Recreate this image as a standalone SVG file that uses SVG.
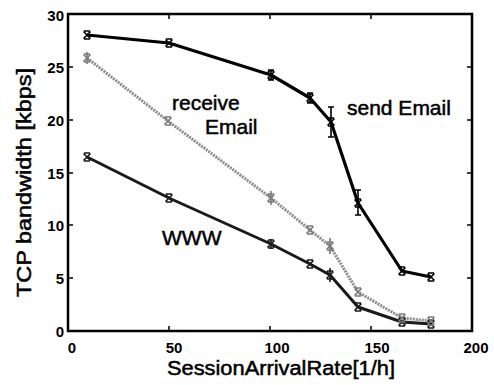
<svg xmlns="http://www.w3.org/2000/svg" width="494" height="385" viewBox="0 0 494 385">
<style>
.tick{font-family:"Liberation Sans",Arial,sans-serif;font-size:15px;font-weight:bold;fill:#000}
.title{font-family:"Liberation Sans",Arial,sans-serif;font-size:20px;fill:#000;stroke:#000;stroke-width:0.5}
.lab{font-family:"Liberation Sans",Arial,sans-serif;font-size:21px;fill:#000;stroke:#000;stroke-width:0.5}
.ax{fill:none;stroke:#000;stroke-width:2.5}
.tk{stroke:#000;stroke-width:1.5}
.send{fill:none;stroke:#000;stroke-width:3.2;stroke-linejoin:round}
.recv{fill:none;stroke:#8c8c8c;stroke-width:3;stroke-dasharray:2 1;stroke-linejoin:round}
.www{fill:none;stroke:#1a1a1a;stroke-width:3;stroke-linejoin:round}
.mk{fill:none;stroke-width:1.6}
</style>
<defs>
<g id="xm"><path d="M-3.5,-3.5L3.5,3.5M-3.5,3.5L3.5,-3.5M-3,-4H3M-3,4H3"/></g>
</defs>
<g id="axes">
<rect class="ax" x="68" y="14" width="404" height="317"/>
<g class="tk">
<path d="M169,331v-5M270,331v-5M371,331v-5M169,14v5M270,14v5M371,14v5"/>
<path d="M68,67h5M68,120h5M68,173h5M68,225h5M68,278h5M472,67h-5M472,120h-5M472,173h-5M472,225h-5M472,278h-5"/>
</g>
<g class="tick" text-anchor="end">
<text x="64" y="21">30</text>
<text x="64" y="73">25</text>
<text x="64" y="126">20</text>
<text x="64" y="179">15</text>
<text x="64" y="231">10</text>
<text x="64" y="284">5</text>
<text x="64" y="337">0</text>
</g>
<g class="tick" text-anchor="middle">
<text x="72" y="353">0</text>
<text x="174" y="353">50</text>
<text x="277" y="353">100</text>
<text x="377" y="353">150</text>
<text x="476" y="353">200</text>
</g>
<text class="title" x="167" y="375" textLength="228" lengthAdjust="spacingAndGlyphs">SessionArrivalRate[1/h]</text>
<text class="title" transform="translate(31,297) rotate(-90)" textLength="229" lengthAdjust="spacingAndGlyphs">TCP bandwidth [kbps]</text>
</g>
<g id="connectors">
<polyline id="www-line" class="www" points="87,157 169,198 271,244 310,264 330,275 358,307 402,322 431,324"/>
<polyline id="recv-line" class="recv" points="87,58 168,121 271,198 310,230 330,246 358,292 402,318 431,321"/>
<polyline id="send-line" class="send" points="87,35 169,43 271,75 310,98 331,122 358,203 402,271 431,277"/>
</g>
<g id="www-markers" class="mk" stroke="#1a1a1a">
<use href="#xm" x="87" y="157"/><use href="#xm" x="169" y="198"/><use href="#xm" x="271" y="244"/><use href="#xm" x="310" y="264"/><use href="#xm" x="330" y="275"/><use href="#xm" x="358" y="307"/><use href="#xm" x="402" y="322"/><use href="#xm" x="431" y="324"/>
<path d="M271,239v10M330,268v14"/>
</g>
<g id="recv-markers" class="mk" stroke="#7a7a7a">
<use href="#xm" x="87" y="58"/><use href="#xm" x="168" y="121"/><use href="#xm" x="271" y="198"/><use href="#xm" x="310" y="230"/><use href="#xm" x="330" y="246"/><use href="#xm" x="358" y="292"/><use href="#xm" x="402" y="318"/><use href="#xm" x="431" y="321"/>
<path d="M87,52v12M271,191v14M330,238v16"/>
</g>
<g id="send-markers" class="mk" stroke="#000">
<use href="#xm" x="87" y="35"/><use href="#xm" x="169" y="43"/><use href="#xm" x="271" y="75"/><use href="#xm" x="310" y="98"/><use href="#xm" x="331" y="122"/><use href="#xm" x="358" y="203"/><use href="#xm" x="402" y="271"/><use href="#xm" x="431" y="277"/>
<path d="M271,70v10M268,70h6M268,80h6M310,93v10M307,93h6M307,103h6M331,107v30M328,107h6M328,137h6M358,190v25M355,190h6M355,215h6"/>
</g>
<g id="label-receive"><text class="lab" x="172" y="110">receive</text><text class="lab" x="205" y="134">Email</text></g>
<g id="label-send"><text class="lab" x="347" y="115">send Email</text></g>
<g id="label-www"><text class="lab" x="162" y="245">WWW</text></g>
</svg>
